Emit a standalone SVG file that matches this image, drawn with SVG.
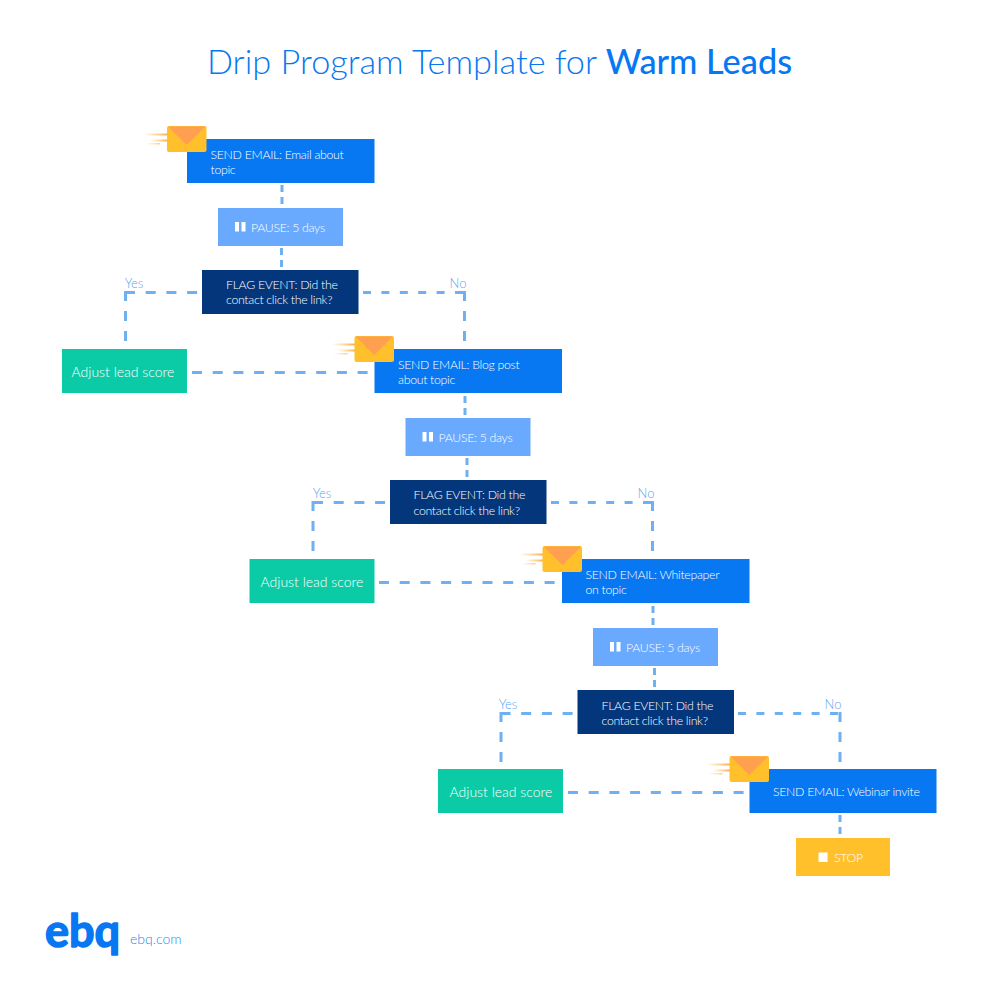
<svg xmlns="http://www.w3.org/2000/svg" width="1000" height="1000" viewBox="0 0 1000 1000">
<style>
text{font-family:"Lato","Liberation Sans",sans-serif;}
.l{font-size:12.300px;fill:#fff;font-weight:300;letter-spacing:-.3px;}
.a{font-size:14px;fill:#fff;font-weight:300;text-anchor:middle;}
.yn{font-size:13px;fill:#5ea6f2;text-anchor:middle;font-weight:300;}
.email{fill:#0877f2;}.pause{fill:#69aaff;}.flag{fill:#03367a;}.adjust{fill:#0bcba6;}.stop{fill:#ffc02b;}
.d{fill:none;stroke:#6fb0f0;stroke-width:3;stroke-dasharray:10 10.700;}
.r{fill:none;stroke:#6fb0f0;stroke-width:3;stroke-dasharray:8 10.400;}
.u{fill:none;stroke:#6fb0f0;stroke-width:3;stroke-dasharray:10 10;}
.v{fill:none;stroke:#6fb0f0;stroke-width:3;stroke-dasharray:7 5;}
</style>
<defs>
<linearGradient id="sp" x1="0" x2="1" y1="0" y2="0"><stop offset="0" stop-color="#ffc02b" stop-opacity="0"/><stop offset="1" stop-color="#ffa850"/></linearGradient>
<g id="env">
<rect x="144" y="133.500" width="24" height="2" fill="url(#sp)"/>
<rect x="150" y="139.500" width="18" height="2" fill="url(#sp)"/>
<rect x="146" y="143" width="14" height="1.500" fill="url(#sp)" opacity=".6"/>
<rect x="167" y="126" width="39.500" height="26" rx="2" fill="#ffc02b"/>
<path d="M168 126.500H205.500L186.800 145Z" fill="#ff9f50"/>
</g>
<g id="pz"><rect x="0" y="0" width="4" height="9.500" fill="#fff"/><rect x="6.500" y="0" width="4" height="9.500" fill="#fff"/></g>
</defs>
<text x="499.500" y="74" text-anchor="middle" font-size="34.300" font-weight="300" fill="#0877f2" id="title">Drip Program Template for <tspan font-weight="500">Warm Leads</tspan></text>
<g id="connectors">
<path class="v" d="M282 185V208M281.500 248V270"/>
<path class="d" d="M125 292.500H198"/><path class="u" d="M125.500 291V342"/>
<path class="r" d="M363 292.500H466"/><path class="u" d="M464.500 291V342"/>
<path class="d" d="M192 372.500H369"/>
<path class="v" d="M465 396V418M467 458V480"/>
<path class="d" d="M313 502.500H386"/><path class="u" d="M313 501V552"/>
<path class="r" d="M551 502.500H654"/><path class="u" d="M652.500 501V552"/>
<path class="d" d="M379 582.500H556"/>
<path class="v" d="M653 606V628M654.500 668V690"/>
<path class="d" d="M500.500 713.500H573"/><path class="u" d="M501 712V763"/>
<path class="r" d="M738 713.500H841.500"/><path class="u" d="M840 712V763"/>
<path class="d" d="M568 792.500H744"/>
<path class="v" d="M840 815V838"/>
</g>
<g id="email1"><rect class="email" x="187" y="139" width="187.500" height="44"/><use href="#env"/><text class="l" x="210.500" y="159">SEND EMAIL: Email about</text><text class="l" x="210.500" y="174">topic</text></g>
<g id="pause1"><rect class="pause" x="218" y="208" width="125" height="38"/><use href="#pz" x="235" y="222"/><text class="l" x="251" y="231.500">PAUSE: 5 days</text></g>
<g id="flag1"><rect class="flag" x="202" y="270" width="156.500" height="44"/><text class="l" x="226" y="289">FLAG EVENT: Did the</text><text class="l" x="226" y="304">contact click the link?</text></g>
<text class="yn" x="134" y="287.500">Yes</text><text class="yn" x="458" y="287.500">No</text>
<g id="adjust1"><rect class="adjust" x="62" y="349" width="125" height="44"/><text class="a" x="123" y="377">Adjust lead score</text></g>
<g id="email2"><rect class="email" x="374.500" y="349" width="187.500" height="44"/><use href="#env" x="187.500" y="210"/><text class="l" x="398" y="369">SEND EMAIL: Blog post</text><text class="l" x="398" y="384">about topic</text></g>
<g id="pause2"><rect class="pause" x="405.500" y="418" width="125" height="38"/><use href="#pz" x="422.500" y="432"/><text class="l" x="438.500" y="441.500">PAUSE: 5 days</text></g>
<g id="flag2"><rect class="flag" x="390" y="480" width="156.500" height="44"/><text class="l" x="413.500" y="499">FLAG EVENT: Did the</text><text class="l" x="413.500" y="514.500">contact click the link?</text></g>
<text class="yn" x="322" y="497.500">Yes</text><text class="yn" x="646" y="497.500">No</text>
<g id="adjust2"><rect class="adjust" x="249.500" y="559" width="125" height="44"/><text class="a" x="312" y="587">Adjust lead score</text></g>
<g id="email3"><rect class="email" x="562" y="559" width="187.500" height="44"/><use href="#env" x="375.500" y="420"/><text class="l" x="585.500" y="579">SEND EMAIL: Whitepaper</text><text class="l" x="585.500" y="594">on topic</text></g>
<g id="pause3"><rect class="pause" x="593" y="628" width="125" height="38"/><use href="#pz" x="610" y="642"/><text class="l" x="626" y="651.500">PAUSE: 5 days</text></g>
<g id="flag3"><rect class="flag" x="577.500" y="690" width="156.500" height="44"/><text class="l" x="601.500" y="709.500">FLAG EVENT: Did the</text><text class="l" x="601.500" y="725">contact click the link?</text></g>
<text class="yn" x="508" y="708.500">Yes</text><text class="yn" x="833" y="708.500">No</text>
<g id="adjust3"><rect class="adjust" x="438" y="769" width="125" height="44"/><text class="a" x="501" y="797">Adjust lead score</text></g>
<g id="email4"><rect class="email" x="749.500" y="769" width="187" height="44"/><use href="#env" x="562.500" y="630"/><text class="l" x="773" y="796">SEND EMAIL: Webinar invite</text></g>
<g id="stop"><rect class="stop" x="796" y="838" width="94" height="38"/><rect x="818.500" y="852.500" width="9" height="9.500" fill="#fff"/><text class="l" x="834" y="862">STOP</text></g>
<g id="logo"><text x="45" y="947" font-size="45" font-weight="700" fill="#0877f2" stroke="#0877f2" stroke-width="1.500" stroke-linejoin="round">ebq</text><text x="130" y="944" font-size="14" font-weight="300" fill="#2a8af0">ebq.com</text></g>
</svg>
